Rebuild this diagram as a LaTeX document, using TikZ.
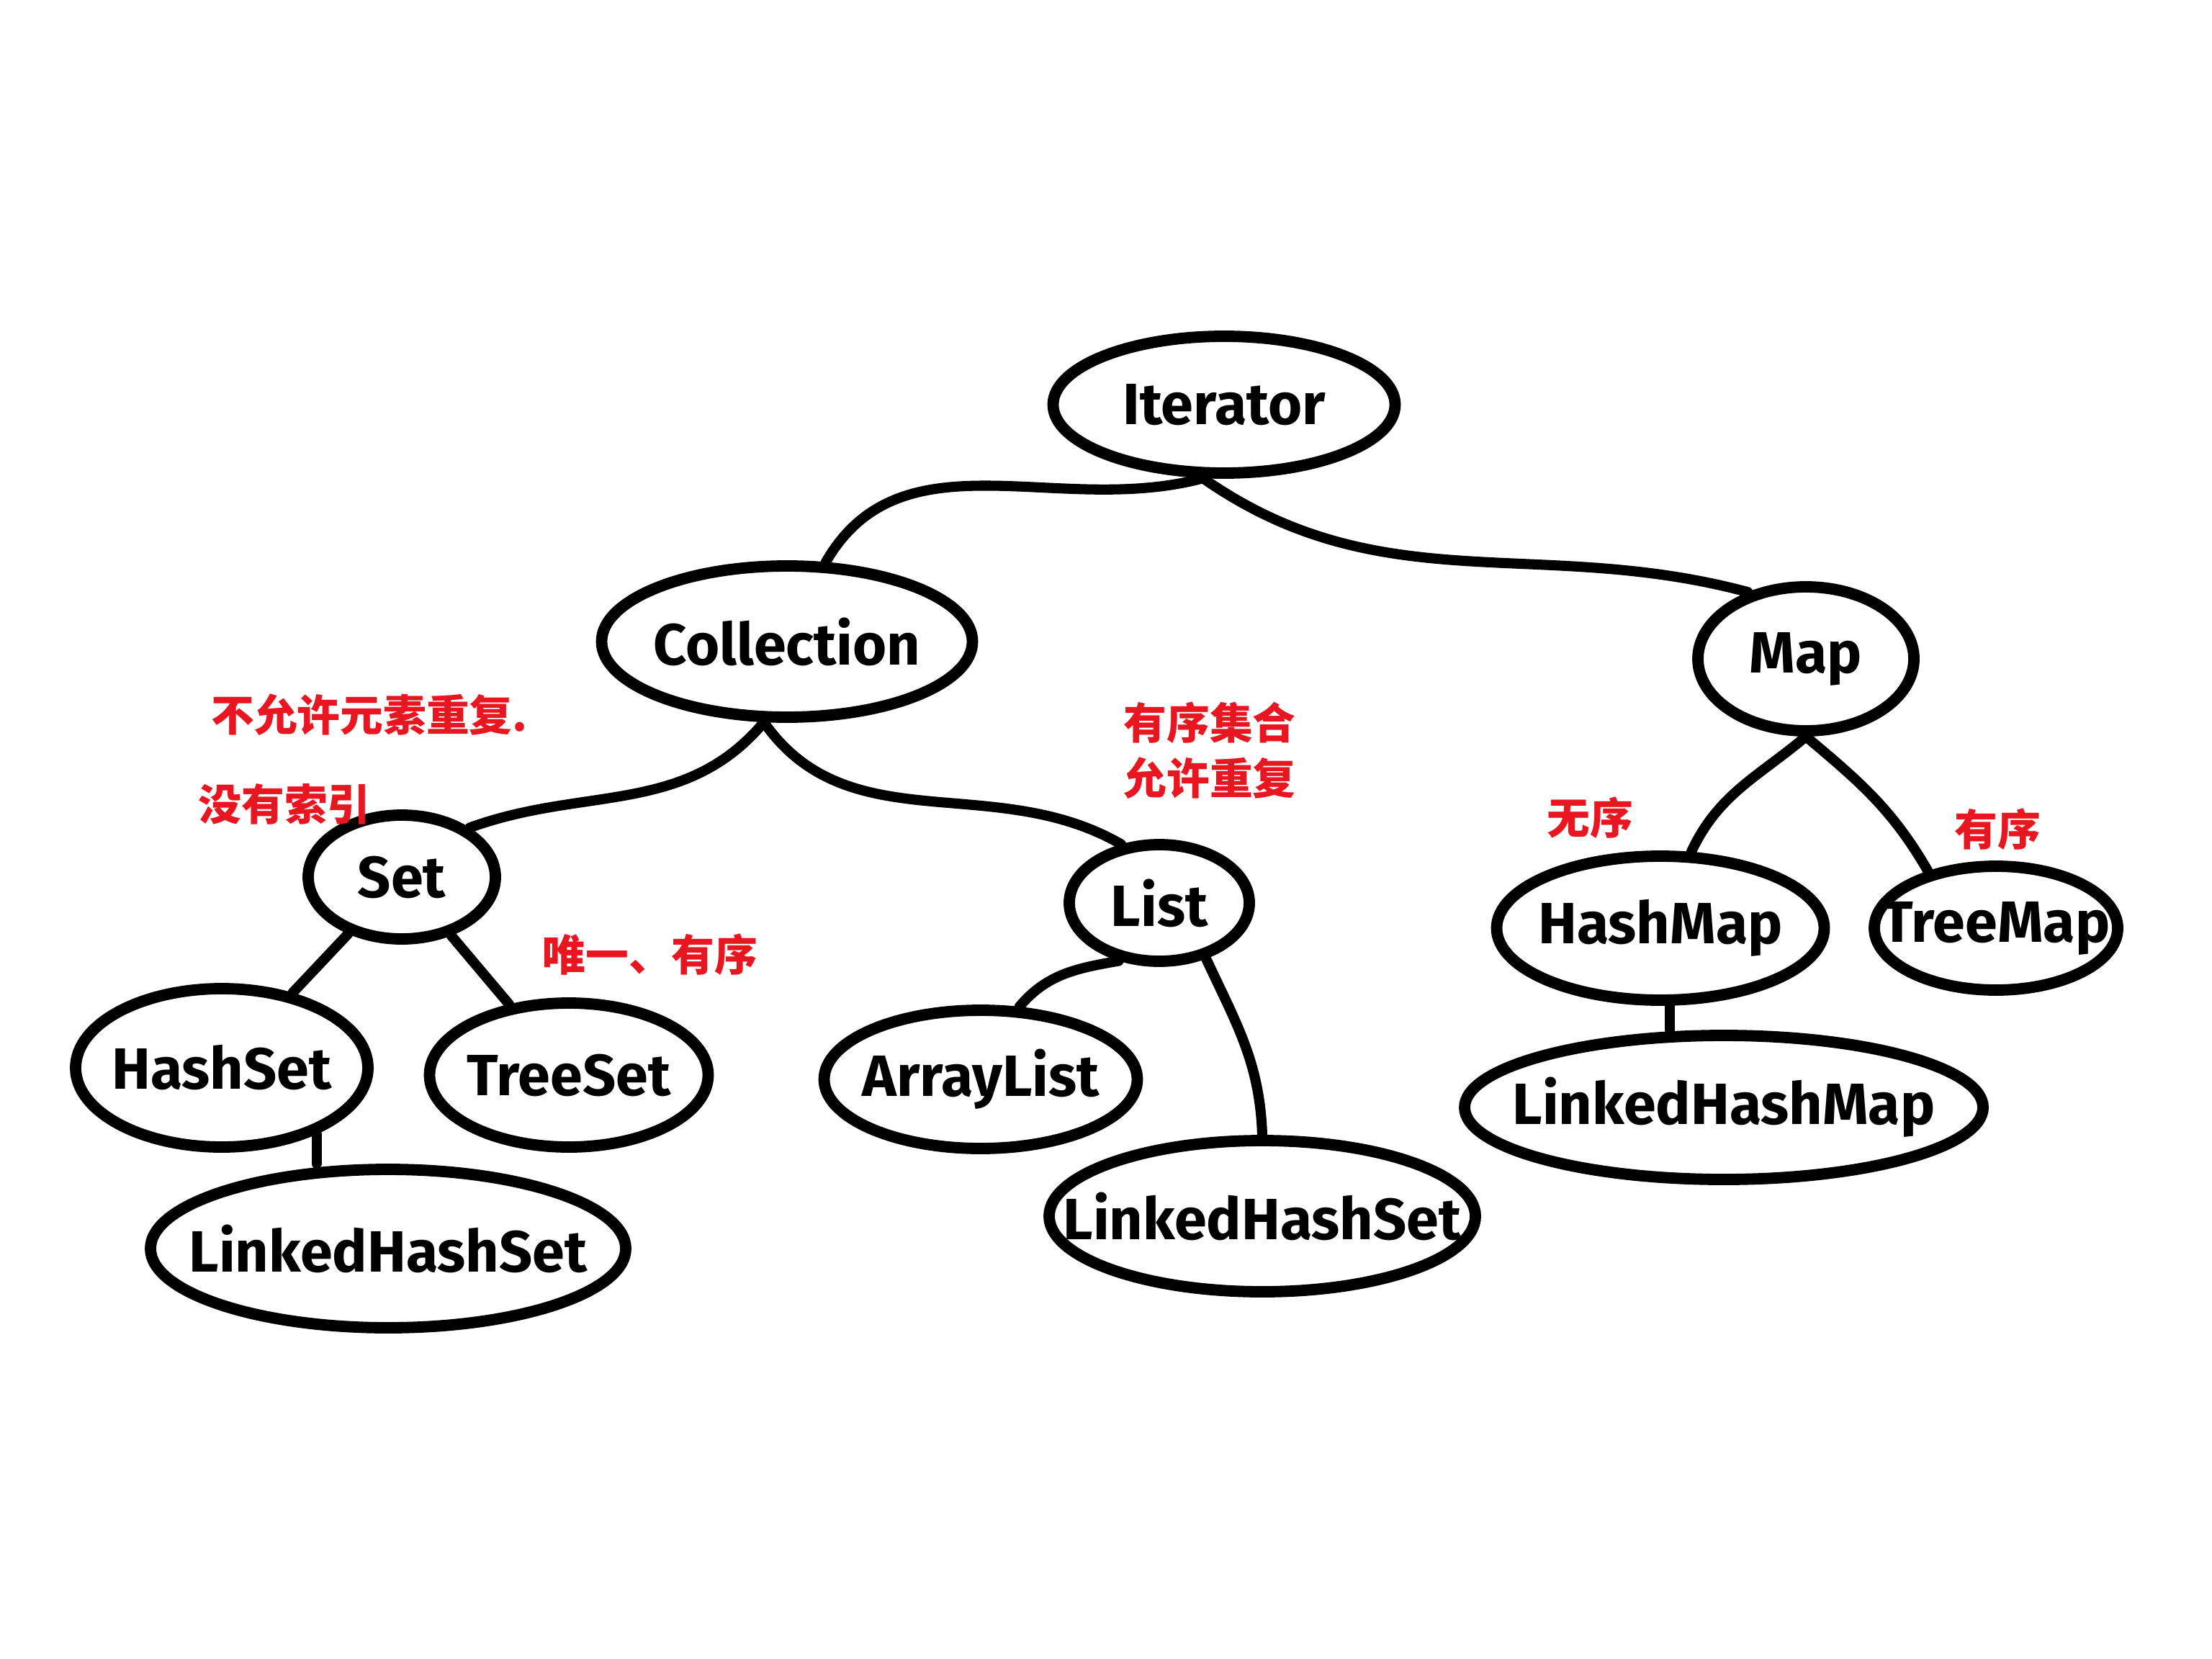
\documentclass[tikz,border=0pt]{standalone}
\usepackage{fontspec}
\setmainfont{Fira Sans}
\newfontfamily\cjk{Noto Sans CJK SC}
\usetikzlibrary{shapes.geometric}
\definecolor{penred}{RGB}{232,22,32}
\tikzset{
hand/.style={font=\fontsize{23}{27}\selectfont\bfseries},
oval/.style={ellipse, draw=black, line width=4.5pt, inner sep=0pt, label={[hand]center:#1}},
link/.style={draw, line width=4pt, line cap=round},
note/.style={font=\cjk\fontsize{17}{22}\selectfont\bfseries, text=penred, align=center, inner sep=0pt},
}
\begin{document}
\begin{tikzpicture}
\useasboundingbox (0,0) rectangle (30.72,-23.04);

% top level
\node[oval=Iterator, minimum width=4.75cm, minimum height=1.9cm] (iter) at (17.00,-5.62) {};
\node[oval=Collection, minimum width=5.15cm, minimum height=2.1cm] (coll) at (10.93,-8.91) {};
\node[oval=Map, minimum width=3.0cm, minimum height=2.0cm] (map) at (25.08,-9.15) {};

% Set branch
\node[oval=Set, minimum width=2.6cm, minimum height=1.72cm] (set) at (5.58,-12.18) {};
\node[oval=HashSet, minimum width=4.06cm, minimum height=2.2cm] (hs) at (3.08,-14.83) {};
\node[oval=TreeSet, minimum width=3.87cm, minimum height=2.0cm] (ts) at (7.90,-14.93) {};
\node[oval=LinkedHashSet, minimum width=6.6cm, minimum height=2.2cm] (lhs) at (5.39,-17.34) {};

% List branch
\node[oval=List, minimum width=2.5cm, minimum height=1.62cm] (list) at (16.10,-12.54) {};
\node[oval=ArrayList, minimum width=4.35cm, minimum height=1.92cm] (al) at (13.62,-14.99) {};
\node[oval=LinkedHashSet, minimum width=5.92cm, minimum height=2.1cm] (llhs) at (17.53,-16.89) {};

% Map branch
\node[oval=HashMap, minimum width=4.55cm, minimum height=2.0cm] (hm) at (23.06,-12.89) {};
\node[oval=TreeMap, minimum width=3.38cm, minimum height=1.72cm] (tm) at (27.72,-12.89) {};
\node[oval=LinkedHashMap, minimum width=7.2cm, minimum height=2.0cm] (lhm) at (23.94,-15.38) {};

% connectors
\draw[link] (iter.-106) to[out=195,in=60] (coll.64);
\draw[link] (iter.-106) to[out=-35,in=165] (map.131);
\draw[link] (coll.-106) to[out=-130,in=20] (set.36);
\draw[link] (coll.-106) to[out=-55,in=150] (list.123);
\draw[link] (set) -- (hs);
\draw[link] (set) -- (ts);
\draw[link] (hs.-35) -- (hs.-35 |- lhs.north);
\draw[link] (list.-125) to[out=-170,in=50] (al.62);
\draw[link] (list.-50) to[out=-65,in=92] (llhs.north);
\draw[link] (map.south) to[out=-140,in=65] (hm.68);
\draw[link] (map.south) to[out=-40,in=120] (tm.140);
\draw[link] (hm.-83) -- (hm.-83 |- lhm.north);

% notes
\node[note] (setnote) at (5.13,-9.93) {不允许元素重复.};
\node[note] (setnoteb) at (3.95,-11.17) {没有索引};
\node[note] (tsnote) at (9.03,-13.26) {唯一、有序};
\node[note] (listnote) at (16.80,-10.42) {有序集合\\允许重复};
\node[note] (hmnote) at (22.08,-11.36) {无序};
\node[note] (tmnote) at (27.74,-11.52) {有序};
\end{tikzpicture}
\end{document}
